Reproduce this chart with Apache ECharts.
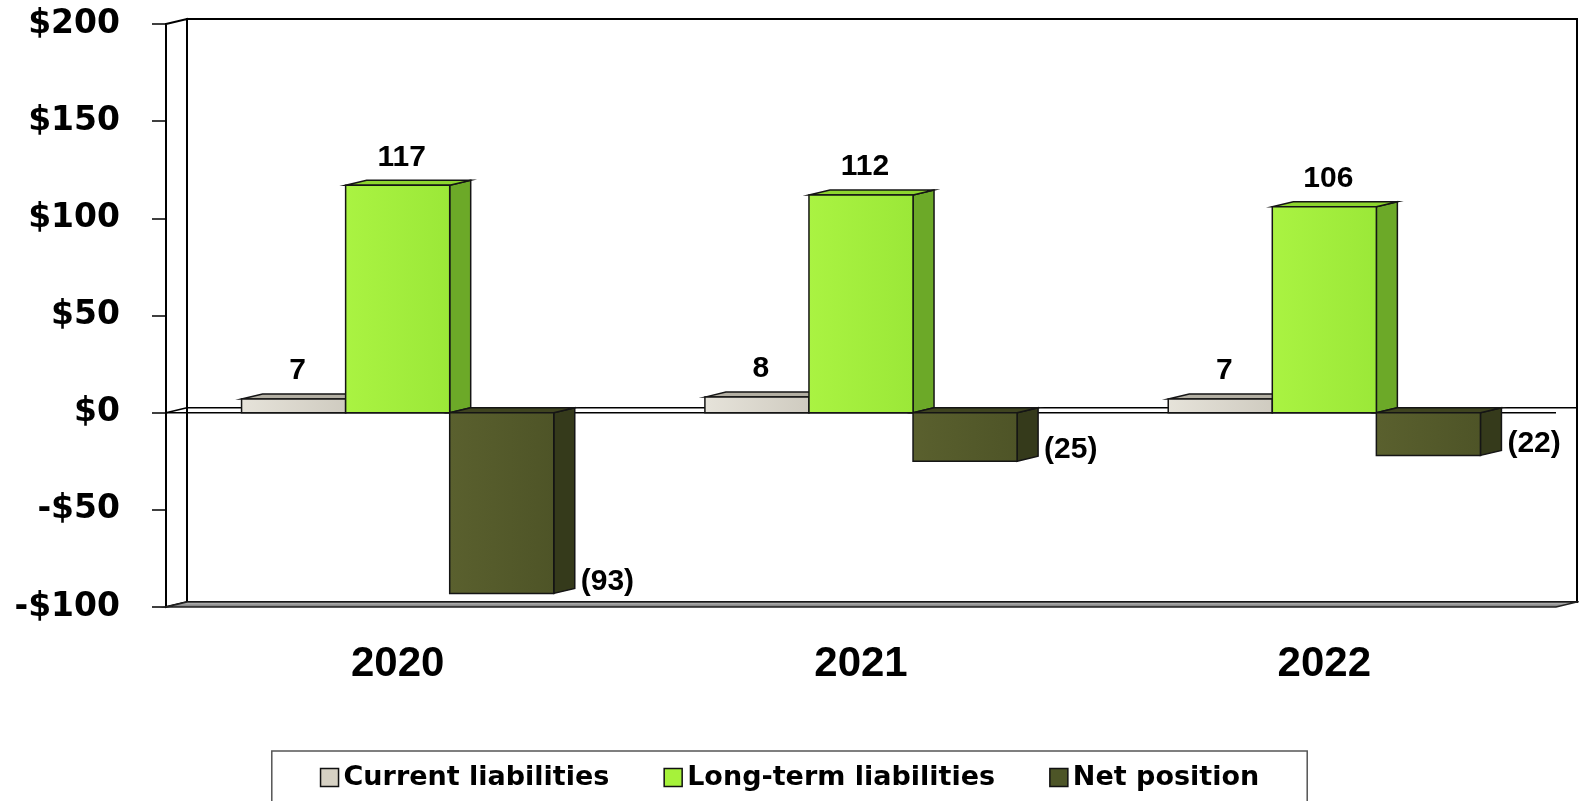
<!DOCTYPE html>
<html>
<head>
<meta charset="utf-8">
<title>Liabilities and Net Position</title>
<script src="https://cdn.jsdelivr.net/npm/echarts@6/dist/echarts.min.js"></script>
<style>
  html, body { margin: 0; padding: 0; background: #ffffff; }
  #chart { width: 1579px; height: 801px; }
</style>
</head>
<body>
<div id="chart"></div>
<script>
// ---- data ----
const years = ['2020', '2021', '2022'];
const currentLiabilities = [7, 8, 7];
const longTermLiabilities = [117, 112, 106];
const netPosition = [-93, -25, -22];
const seriesNames = ['Current liabilities', 'Long-term liabilities', 'Net position'];
const yMin = -100, yMax = 200, yStep = 50;

// ---- look ----
const DX = 21, DY = 5;          // depth of the 3D boxes
const BAR_FRAC = 0.2246;        // box width as a share of the category band
const palette = [
  { front: ['#e6e3da', '#cfcbc0'], top: '#b3afa3', side: '#8e8b80', legend: '#d6d1c3' },
  { front: ['#aaf342', '#9be838'], top: '#8dd52e', side: '#6ca928', legend: '#a6f23a' },
  { front: ['#5a602e', '#4e5427'], top: '#3f4420', side: '#353a1b', legend: '#4d5527' }
];
const LABEL_FONT = '"Liberation Sans", Arial, sans-serif';
const WIDE_FONT = '"DejaVu Sans", sans-serif';

function boxRenderer(slot) {
  const c = palette[slot];
  return function (params, api) {
    const cat = api.value(0), v = api.value(1);
    const p0 = api.coord([cat, 0]);
    const p1 = api.coord([cat, v]);
    const band = api.size([1, 0])[0];
    const w = band * BAR_FRAC;
    const x0 = p0[0] - 1.5 * w + slot * w;
    const x1 = x0 + w;
    const yUp = Math.min(p0[1], p1[1]);
    const yDown = Math.max(p0[1], p1[1]);
    const edge = { stroke: '#151515', lineWidth: 1.5 };
    const children = [
      { type: 'polygon', shape: { points: [[x1, yUp], [x1 + DX, yUp - DY], [x1 + DX, yDown - DY], [x1, yDown]] },
        style: Object.assign({ fill: c.side }, edge) },
      { type: 'polygon', shape: { points: [[x0, yUp], [x0 + DX, yUp - DY], [x1 + DX, yUp - DY], [x1, yUp]] },
        style: Object.assign({ fill: c.top }, edge) },
      { type: 'rect', shape: { x: x0, y: yUp, width: w, height: yDown - yUp },
        style: Object.assign({ fill: new echarts.graphic.LinearGradient(0, 0, 1, 0, [
          { offset: 0, color: c.front[0] }, { offset: 1, color: c.front[1] }]) }, edge) }
    ];
    if (v >= 0) {
      children.push({ type: 'text', style: {
        x: x0 + w / 2 + 4, y: yUp - 28, text: String(v), align: 'center', verticalAlign: 'middle',
        fill: '#000', font: 'bold 30px ' + LABEL_FONT } });
    } else {
      children.push({ type: 'text', style: {
        x: x1 + DX + 6, y: yDown - 12, text: '(' + Math.abs(v) + ')', align: 'left', verticalAlign: 'middle',
        fill: '#000', font: 'bold 30px ' + LABEL_FONT } });
    }
    return { type: 'group', children: children };
  };
}

// back wall, side wall, floor and the zero plane edges
function frameRenderer(params, api) {
  const cs = params.coordSys;
  const L = cs.x, R = cs.x + cs.width, T = cs.y, B = cs.y + cs.height;
  const y0 = api.coord([0, 0])[1];
  const line = { stroke: '#000', lineWidth: 2 };
  return { type: 'group', children: [
    { type: 'rect', shape: { x: L + DX, y: T - DY, width: cs.width, height: cs.height },
      style: Object.assign({ fill: '#fff' }, line) },
    { type: 'polygon', shape: { points: [[L, T], [L + DX, T - DY], [L + DX, B - DY], [L, B]] },
      style: Object.assign({ fill: '#fff' }, line) },
    { type: 'polygon', shape: { points: [[L, B], [L + DX, B - DY], [R + DX, B - DY], [R, B]] },
      style: { fill: new echarts.graphic.LinearGradient(0, 0, 0, 1, [
        { offset: 0, color: '#d0d0d0' }, { offset: 0.5, color: '#9a9a9a' }, { offset: 1, color: '#6a6a6a' }]),
        stroke: '#222', lineWidth: 1.5 } },
    { type: 'polyline', shape: { points: [[L + DX, y0 - DY], [R + DX, y0 - DY]] }, style: { stroke: '#000', lineWidth: 1.5, fill: null } },
    { type: 'polyline', shape: { points: [[L, y0], [L + DX, y0 - DY]] }, style: { stroke: '#000', lineWidth: 1.5, fill: null } },
    { type: 'polyline', shape: { points: [[L, y0], [R, y0]] }, style: { stroke: '#000', lineWidth: 1.5, fill: null } }
  ] };
}

function toPairs(values) { return values.map((v, i) => [i, v]); }
const valueSets = [currentLiabilities, longTermLiabilities, netPosition];

const chart = echarts.init(document.getElementById('chart'), null, { renderer: 'canvas' });
chart.setOption({
  animation: false,
  backgroundColor: '#ffffff',
  grid: { left: 166, right: 23, top: 24, bottom: 194 },
  xAxis: {
    type: 'category',
    data: years,
    axisLine: { show: false, onZero: false },
    axisTick: { show: false },
    axisLabel: { margin: 36, color: '#000', fontSize: 42, fontWeight: 'bold', fontFamily: LABEL_FONT }
  },
  yAxis: {
    type: 'value',
    min: yMin, max: yMax, interval: yStep,
    axisLine: { show: true, lineStyle: { color: '#000', width: 2 } },
    axisTick: { show: true, length: 14, lineStyle: { color: '#000', width: 1.5 } },
    splitLine: { show: false },
    axisLabel: {
      margin: 46, color: '#000', fontSize: 33, fontWeight: 'bold', fontFamily: WIDE_FONT,
      formatter: v => (v < 0 ? '-$' + Math.abs(v) : '$' + v)
    }
  },
  legend: {
    top: 751, left: 'center',
    data: seriesNames.map((n, i) => ({ name: n, itemStyle: { color: palette[i].legend, borderColor: '#111', borderWidth: 1.5 } })),
    icon: 'rect', itemWidth: 18, itemHeight: 18, itemGap: 54,
    padding: [13, 48, 13, 48],
    borderColor: '#555', borderWidth: 1.5,
    textStyle: { color: '#000', fontSize: 27, fontWeight: 'bold', fontFamily: WIDE_FONT }
  },
  series: [
    { type: 'custom', name: 'frame', z: 1, silent: true, clip: false,
      data: [[0, 0]], encode: { x: 0, y: 1 }, renderItem: frameRenderer }
  ].concat(valueSets.map((vals, s) => ({
    type: 'custom', name: seriesNames[s], z: 2 + s, clip: false,
    itemStyle: { color: palette[s].legend, borderColor: '#111', borderWidth: 1.5 },
    data: toPairs(vals), encode: { x: 0, y: 1 },
    renderItem: boxRenderer(s)
  })))
});
</script>
</body>
</html>
